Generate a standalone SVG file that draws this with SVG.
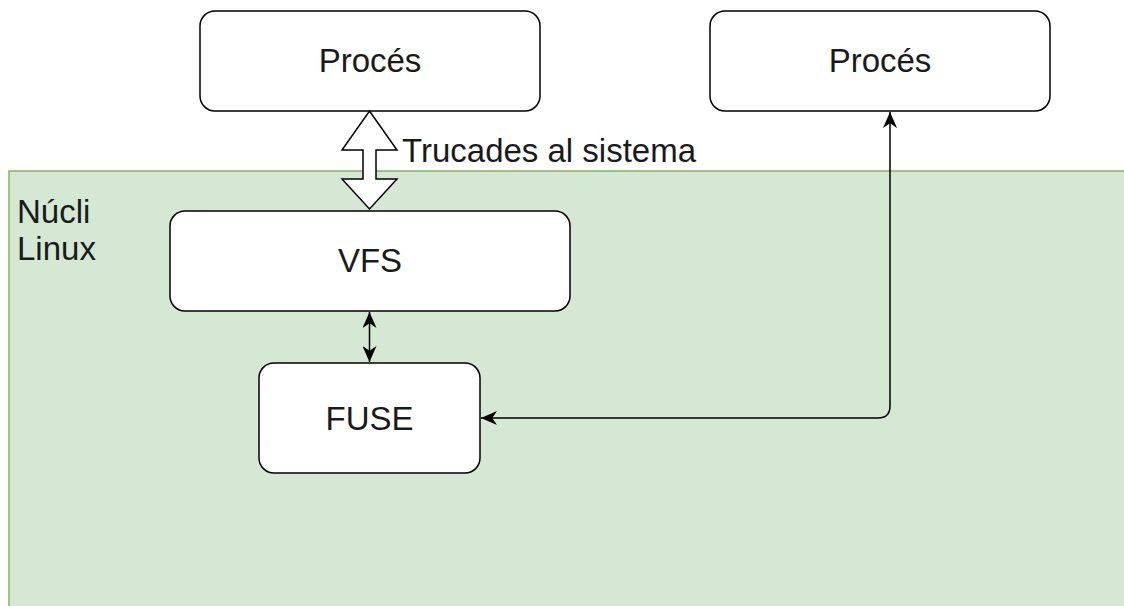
<svg xmlns="http://www.w3.org/2000/svg" width="1124" height="606" viewBox="0 0 1124 606">
  <style>
    .box { fill: #ffffff; stroke: #000000; stroke-width: 1.5; }
    .lbl { font-family: "Liberation Sans", Arial, sans-serif; font-size: 33px; fill: #1a1a1a; }
    .mid { text-anchor: middle; }
    .edge { fill: none; stroke: #000000; stroke-width: 1.5; }
  </style>
  <defs>
    <marker id="arrowBig" viewBox="0 0 10 10" refX="10" refY="5" markerWidth="16" markerHeight="14" markerUnits="userSpaceOnUse" orient="auto-start-reverse" preserveAspectRatio="none">
      <path d="M0,0 L10,5 L0,10 L3,5 Z" fill="#000000"/>
    </marker>
  </defs>

  <!-- Kernel area -->
  <g id="kernel">
    <rect x="9" y="171" width="1130" height="450" fill="#d5e8d4" stroke="#82b366" stroke-width="1.5"/>
    <text class="lbl" x="17" y="223">Núcli</text>
    <text class="lbl" x="17" y="260">Linux</text>
  </g>

  <g id="proces-1">
    <rect class="box" x="200" y="11" width="340" height="100" rx="15" ry="15"/>
    <text class="lbl mid" x="370" y="72">Procés</text>
  </g>

  <g id="proces-2">
    <rect class="box" x="710" y="11" width="340" height="100" rx="15" ry="15"/>
    <text class="lbl mid" x="880" y="72">Procés</text>
  </g>

  <g id="vfs">
    <rect class="box" x="170" y="211" width="400" height="100" rx="15" ry="15"/>
    <text class="lbl mid" x="370" y="272">VFS</text>
  </g>

  <g id="fuse">
    <rect class="box" x="259" y="363" width="221" height="110" rx="15" ry="15"/>
    <text class="lbl mid" x="369.5" y="430">FUSE</text>
  </g>

  <g id="connectors">
    <!-- system call double arrow -->
    <polygon points="369.5,111 397,150 376,150 376,179 397,179 369.5,209 342,179 363,179 363,150 342,150" fill="#ffffff" stroke="#000000" stroke-width="1.5" stroke-linejoin="miter"/>
    <text class="lbl" x="402" y="162">Trucades al sistema</text>

    <!-- VFS <-> FUSE -->
    <line class="edge" x1="369.5" y1="312" x2="369.5" y2="362" marker-start="url(#arrowBig)" marker-end="url(#arrowBig)"/>

    <!-- FUSE <-> user process -->
    <path class="edge" d="M481,418 L878,418 Q890,418 890,406 L890,112" marker-start="url(#arrowBig)" marker-end="url(#arrowBig)"/>
  </g>
</svg>
